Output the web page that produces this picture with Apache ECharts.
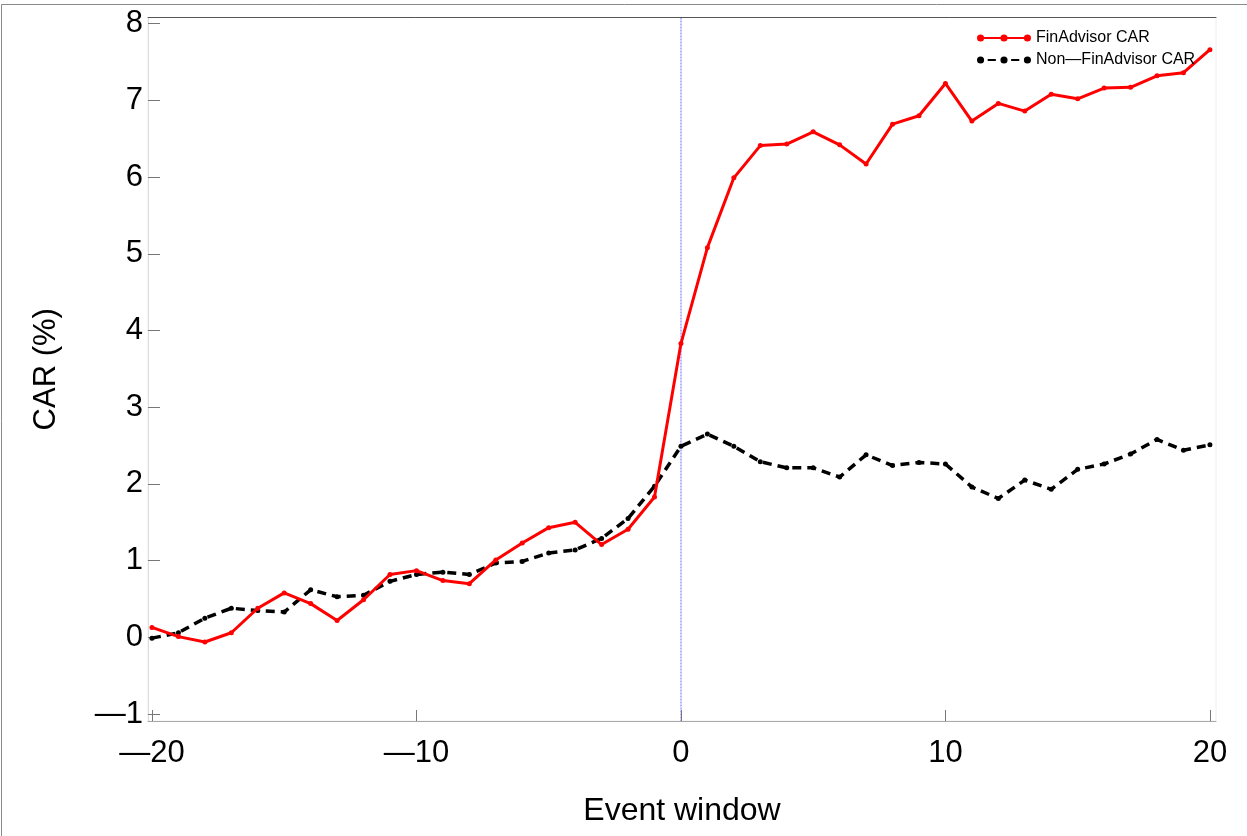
<!DOCTYPE html>
<html>
<head>
<meta charset="utf-8">
<script src="https://cdn.jsdelivr.net/npm/echarts@6/dist/echarts.min.js"></script>
<style>
	html, body { margin: 0; padding: 0; background: #fff; overflow: hidden; }
	#chart { width: 1247px; height: 836px; }
</style>
</head>
<body>
<div id="chart"></div>
<script>
// 事件窗口（天）
var eventDays = [-20, -19, -18, -17, -16, -15, -14, -13, -12, -11,
	-10, -9, -8, -7, -6, -5, -4, -3, -2, -1,
	0, 1, 2, 3, 4, 5, 6, 7, 8, 9, 10,
	11, 12, 13, 14, 15, 16, 17, 18, 19, 20]
// FinAdvisor CAR (%)
var finCar = [0.13, 0.01, -0.06, 0.06, 0.38, 0.58, 0.44, 0.22, 0.49, 0.82,
	0.87, 0.74, 0.70, 1.01, 1.23, 1.43, 1.50, 1.21, 1.41, 1.83,
	3.83, 5.08, 5.99, 6.41, 6.43, 6.59, 6.42, 6.17, 6.69, 6.80, 7.22,
	6.73, 6.96, 6.86, 7.08, 7.02, 7.16, 7.17, 7.32, 7.36, 7.66]
// Non-FinAdvisor CAR (%)
var nonFinCar = [-0.01, 0.06, 0.25, 0.38, 0.35, 0.33, 0.62, 0.53, 0.55, 0.73,
	0.82, 0.85, 0.82, 0.97, 0.99, 1.10, 1.14, 1.29, 1.55, 1.97,
	2.49, 2.65, 2.49, 2.29, 2.21, 2.21, 2.09, 2.38, 2.24, 2.28, 2.26,
	1.96, 1.81, 2.05, 1.93, 2.19, 2.26, 2.39, 2.58, 2.44, 2.51]
var xTicks = [-20, -10, 0, 10, 20]
var yTicks = [-1, 0, 1, 2, 3, 4, 5, 6, 7, 8]
var eventLine = [0]
var seriesNames = ['FinAdvisor CAR', 'Non\u2014FinAdvisor CAR']

function pairs(ys) {
	return eventDays.map(function(d, i) { return [d, ys[i]] })
}

function fmt(v) {
	return v < 0 ? '\u2014' + Math.abs(v) : String(v)
}

// 图例图标：线 + 三个点
var dot = function(cx) {
	return 'M' + (cx - 3.5) + ' 4 A3.5 3.5 0 1 1 ' + (cx + 3.5) + ' 4 A3.5 3.5 0 1 1 ' + (cx - 3.5) + ' 4 Z '
}
var bar = function(a, b) {
	return 'M' + a + ' 3 H' + b + ' V5 H' + a + ' Z '
}
var redIcon = 'path://' + dot(5) + dot(28) + dot(51) + bar(8, 25) + bar(31, 48)
var blackIcon = 'path://' + dot(5) + dot(28) + dot(51) + bar(12, 20) + bar(35, 43)

var font = '"Liberation Sans", Arial, Helvetica, sans-serif'

var chart = echarts.init(document.getElementById('chart'), null, { renderer: 'canvas' })
var option = {
	animation: false,
	backgroundColor: '#fff',
	textStyle: { fontFamily: font, color: '#000' },
	grid: {
		left: 148, right: 31, top: 17.5, bottom: 115,
		show: true, borderColor: '#eeeeee', borderWidth: 1
	},
	legend: {
		orient: 'vertical',
		left: 972,
		top: 25,
		itemWidth: 54,
		itemHeight: 8,
		itemGap: 6,
		textStyle: { fontSize: 16, color: '#000', fontFamily: font },
		data: [
			{ name: seriesNames[0], icon: redIcon },
			{ name: seriesNames[1], icon: blackIcon }
		]
	},
	graphic: [{
		type: 'rect',
		silent: true,
		shape: { x: 1.5, y: 4.5, width: 1400, height: 1000 },
		style: { fill: 'none', stroke: '#8a8a8a', lineWidth: 1 }
	}],
	xAxis: [{
		type: 'value',
		min: -20.15,
		max: 20.23,
		name: 'Event window',
		nameLocation: 'middle',
		nameGap: 74,
		nameTextStyle: { fontSize: 32, color: '#000', fontFamily: font },
		axisLine: { show: true, onZero: false, lineStyle: { color: '#a8a8a8', width: 1 } },
		axisTick: { show: true, inside: true, length: 11, customValues: xTicks, lineStyle: { color: '#777' } },
		axisLabel: { fontSize: 31, color: '#000', margin: 17, customValues: xTicks, formatter: fmt },
		splitLine: { show: false }
	}, {
		// 顶部边框 + 事件日竖线（作为分隔线画出）
		type: 'value',
		position: 'top',
		min: -20.15,
		max: 20.23,
		axisLine: { show: true, onZero: false, lineStyle: { color: '#555', width: 1 } },
		axisTick: { show: false, customValues: eventLine },
		axisLabel: { show: false, customValues: eventLine },
		splitLine: { show: true, lineStyle: { color: '#9a9aff', width: 1.5, type: [2, 1] } }
	}],
	yAxis: {
		type: 'value',
		min: -1.09,
		max: 8.08,
		name: 'CAR (%)',
		nameLocation: 'middle',
		nameRotate: 90,
		nameGap: 86,
		nameTextStyle: { fontSize: 31, color: '#000', fontFamily: font },
		axisLine: { show: true, onZero: false, lineStyle: { color: '#dcdcdc', width: 1 } },
		axisTick: { show: true, inside: true, length: 12, customValues: yTicks, lineStyle: { color: '#777' } },
		axisLabel: { fontSize: 31, color: '#000', margin: 5, customValues: yTicks, formatter: fmt },
		splitLine: { show: false }
	},
	series: [{
		name: seriesNames[0],
		type: 'line',
		data: pairs(finCar),
		color: '#ff0000',
		symbol: 'circle',
		symbolSize: 5,
		lineStyle: { color: '#ff0000', width: 3 },
		itemStyle: { color: '#ff0000' },
		z: 3
	}, {
		name: seriesNames[1],
		type: 'line',
		data: pairs(nonFinCar),
		color: '#000',
		symbol: 'circle',
		symbolSize: 5,
		lineStyle: { color: '#000', width: 3.5, type: [9, 6] },
		itemStyle: { color: '#000' },
		z: 2
	}]
}
chart.setOption(option)
</script>
</body>
</html>
